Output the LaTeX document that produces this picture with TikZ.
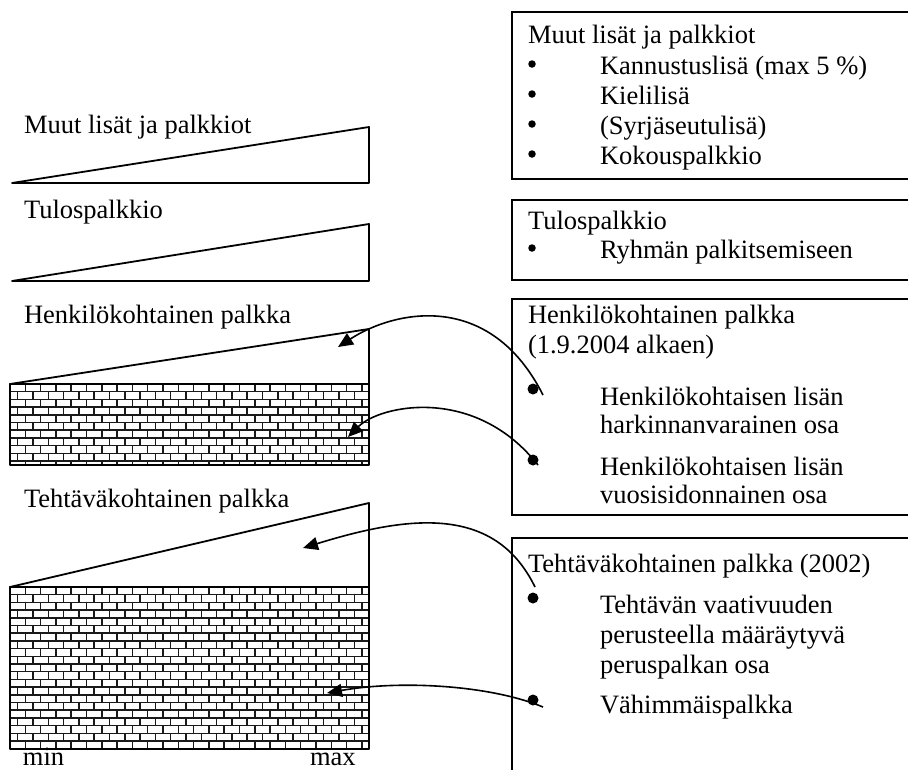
\documentclass[tikz,border=0pt]{standalone}
\usepackage{fontspec}
\setmainfont{Liberation Serif}
\usetikzlibrary{arrows.meta}
\tikzset{
 every node/.style={inner sep=0pt, outer sep=0pt, anchor=base west, font=\fontsize{26.5}{30}\selectfont},
 shp/.style={line width=1.8pt, line join=round},
 boxline/.style={line width=2pt},
 mortar/.style={line width=1.5pt, black!90},
 conn/.style={line width=1.6pt, -{Triangle[length=15pt,width=13pt]}},
 dotnode/.style={circle, fill=black, minimum size=11pt, anchor=center},
 bulletnode/.style={circle, fill=black, minimum size=7.5pt, anchor=center},
}
\newcommand\brickwall[4]{%
 \begin{scope}
 \clip (#1,#2) rectangle (#3,#4);
 \fill[white] (#1,#2) rectangle (#3,#4);
 \pgfmathtruncatemacro\nrows{ceil((#4-#2)/7.7)}
 \foreach \r in {0,...,\nrows} {
   \pgfmathsetmacro\yy{#2+\r*7.7}
   \pgfmathsetmacro\off{mod(\r,2)*7.65}
   \draw[mortar] (#1,\yy) -- (#3,\yy);
   \foreach \c in {0,...,24} {
     \draw[mortar] ({#1+\off+\c*15.3},\yy) -- ++(0,7.7);
   }
 }
 \end{scope}
 \draw[shp] (#1,#2) rectangle (#3,#4);
}
\begin{document}
\begin{tikzpicture}[x=1pt,y=-1pt]
\useasboundingbox (0,0) rectangle (908,769);
\clip (0,0) rectangle (908,769);

% left side shapes
\draw[shp] (12,183) -- (369,127) -- (369,183) -- cycle;
\draw[shp] (12,281) -- (369,224) -- (369,281) -- cycle;
\draw[shp] (10,384) -- (369,329) -- (369,384) -- cycle;
\brickwall{10}{384}{369}{465}
\draw[shp] (10,587) -- (369,503) -- (369,587) -- cycle;
\brickwall{10}{587}{369}{749}

% left labels
\node (lmuut) at (24,133) {Muut lisät ja palkkiot};
\node (ltulos) at (24,218) {Tulospalkkio};
\node (lhenk) at (24,323) {Henkilökohtainen palkka};
\node (lteht) at (24,507) {Tehtäväkohtainen palkka};
\node (lmin) at (23,765) {min};
\node (lmax) at (310,765) {max};

% right boxes
\draw[boxline] (512,12) rectangle (930,179);
\draw[boxline] (512,200) rectangle (930,280);
\draw[boxline] (512,299) rectangle (930,515);
\draw[boxline] (512,538) rectangle (930,790);

% box 1
\node (b1h) at (528,43) {Muut lisät ja palkkiot};
\node[bulletnode] (b1d1) at (532,64) {};
\node (b1t1) at (600,74) {Kannustuslisä (max 5 \%)};
\node[bulletnode] (b1d2) at (532,94) {};
\node (b1t2) at (600,104) {Kielilisä};
\node[bulletnode] (b1d3) at (532,124) {};
\node (b1t3) at (600,134) {(Syrjäseutulisä)};
\node[bulletnode] (b1d4) at (532,154) {};
\node (b1t4) at (600,164) {Kokouspalkkio};

% box 2
\node (b2h) at (528,229) {Tulospalkkio};
\node[bulletnode] (b2d1) at (532,248) {};
\node (b2t1) at (600,258) {Ryhmän palkitsemiseen};

% box 3
\node (b3h) at (528,323) {Henkilökohtainen palkka};
\node (b3h2) at (528,353) {(1.9.2004 alkaen)};
\node (b3a) at (600,405) {Henkilökohtaisen lisän};
\node (b3b) at (600,433) {harkinnanvarainen osa};
\node (b3c) at (600,475) {Henkilökohtaisen lisän};
\node (b3d) at (600,503) {vuosisidonnainen osa};

% box 4
\node (b4h) at (528,572) {Tehtäväkohtainen palkka (2002)};
\node (b4a) at (600,613) {Tehtävän vaativuuden};
\node (b4b) at (600,643) {perusteella määräytyvä};
\node (b4c) at (600,673) {peruspalkan osa};
\node (b4d) at (600,713) {Vähimmäispalkka};

% connector ends
\coordinate (s1) at (543,395);
\coordinate (t1) at (338,347);
\coordinate (s2) at (538,465);
\coordinate (t2) at (348,437);
\coordinate (s3) at (535,587);
\coordinate (t3) at (303,548);
\coordinate (s4) at (543,707);
\coordinate (t4) at (327,693);

\draw[conn] (s1) .. controls (490,290) and (395,310) .. (t1);
\draw[conn] (s2) .. controls (475,385) and (380,405) .. (t2);
\draw[conn] (s3) .. controls (495,505) and (410,515) .. (t3);
\draw[conn] (s4) .. controls (490,685) and (400,680) .. (t4);

\node[dotnode] (d1) at (533,389) {};
\node[dotnode] (d2) at (533,460) {};
\node[dotnode] (d3) at (533,598) {};
\node[dotnode] (d4) at (533,700) {};
\end{tikzpicture}
\end{document}
